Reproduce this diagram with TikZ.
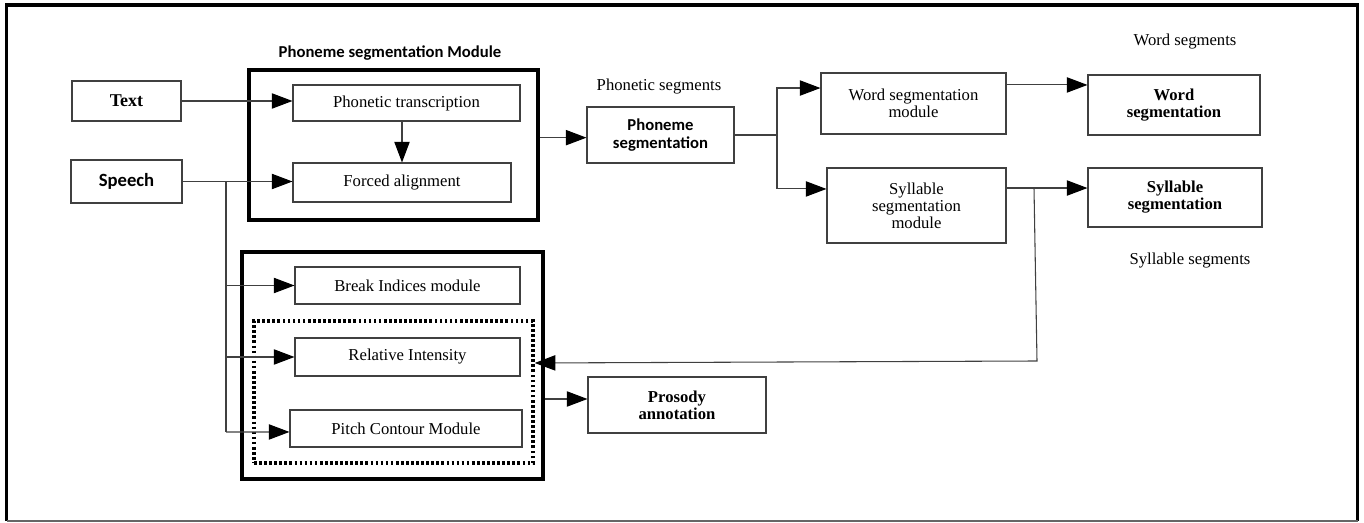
\documentclass[tikz,border=0pt]{standalone}
\usepackage{fontspec}
\setmainfont{Liberation Serif}
\newfontfamily\calib{Carlito}
\usetikzlibrary{arrows.meta}
\begin{document}
\begin{tikzpicture}[x=0.75pt,y=-0.75pt,
  box/.style={draw=black!75, line width=0.8pt, align=center, inner sep=0pt,
    font=\fontsize{12.5}{12.8}\selectfont},
  boldbox/.style={box, font=\fontsize{12.5}{12.8}\selectfont\bfseries},
  sansbox/.style={box, font=\fontsize{12.5}{13.2}\selectfont\calib\bfseries},
  modbox/.style={draw=black, line width=2.6pt, inner sep=0pt},
  dotbox/.style={draw=black, line width=2.6pt, dash pattern=on 2pt off 1.8pt, inner sep=0pt},
  lbl/.style={font=\fontsize{12.5}{13}\selectfont, inner sep=0pt},
  arr/.style={draw=black!75, line width=0.8pt, -{Triangle[length=15.5pt,width=11.5pt,black]}},
  ln/.style={draw=black!75, line width=0.8pt}]
\useasboundingbox (0,0) rectangle (1364,523);
% outer frame
\draw[line width=2.6pt] (6.5,521) -- (6.5,5) -- (1357.5,5) -- (1357.5,521);
\draw[line width=0.8pt, black!60] (6.5,521) -- (1357.5,521);

% module boxes
\node[modbox, minimum width=216.75pt, minimum height=112.5pt] (pm) at (393.5,145) {};
\node[modbox, minimum width=225.75pt, minimum height=170.25pt] (pros) at (392.5,365.5) {};
\node[dotbox, minimum width=209.25pt, minimum height=106.5pt] (dot) at (393.5,392) {};

\node[font=\fontsize{12.5}{13}\selectfont\calib\bfseries, inner sep=0pt] (title) at (390,53) {Phoneme segmentation Module};

% boxes
\node[boldbox, font=\fontsize{13.5}{14}\selectfont\bfseries, minimum width=81.75pt, minimum height=30pt] (text) at (126.5,101) {Text};
\node[sansbox, font=\fontsize{14}{14}\selectfont\calib\bfseries, minimum width=83.25pt, minimum height=32.25pt] (speech) at (126.5,181.5) {Speech};
\node[box, minimum width=170.25pt, minimum height=27pt] (pt) at (406.5,103) {Phonetic transcription};
\node[box, minimum width=163.5pt, minimum height=29.25pt] (fa) at (402,182.5) {Forced alignment};
\node[sansbox, minimum width=110.25pt, minimum height=42pt] (ps) at (660.5,135) {Phoneme\\segmentation};
\node[box, minimum width=138.75pt, minimum height=45.75pt] (wsm) at (913.5,103.5) {Word segmentation\\module};
\node[box, minimum width=134.25pt, minimum height=56.25pt] (ssm) at (916.5,205.5) {Syllable\\segmentation\\module};
\node[boldbox, minimum width=129pt, minimum height=45pt] (ws) at (1174,105) {Word\\segmentation};
\node[boldbox, minimum width=130.5pt, minimum height=44.25pt] (ss) at (1175,197.5) {Syllable\\segmentation};
\node[box, minimum width=168.75pt, minimum height=27.75pt] (bi) at (407.5,285.5) {Break Indices module};
\node[box, minimum width=168.75pt, minimum height=28.5pt] (ri) at (407.5,357) {Relative Intensity};
\node[box, minimum width=174pt, minimum height=27.75pt] (pc) at (406,428.5) {Pitch Contour Module};
\node[boldbox, minimum width=133.5pt, minimum height=42pt] (pa) at (677,405) {Prosody\\annotation};

% free labels
\node[lbl] (lps) at (659,87) {Phonetic segments};
\node[lbl] (lws) at (1185,42) {Word segments};
\node[lbl] (lss) at (1190,261) {Syllable segments};

% connectors
\draw[arr] (text.east) -- (text.east -| pt.west);
\draw[arr] (pt.south -| fa.north) -- (fa.north);
\draw[arr] (speech.east) -- (speech.east -| fa.west);
\coordinate (br) at (226,181.5);
\coordinate (brend) at (226,432);
\draw[ln] (br) -- (brend);
\draw[arr] (br |- bi.west) -- (bi.west);
\draw[arr] (br |- ri.west) -- (ri.west);
\draw[arr] (brend) -- ([yshift=-2.6pt]pc.west);

\draw[arr] ([yshift=-2pt]ps.west -| pm.east) -- ([yshift=-2pt]ps.west);
\coordinate (sp) at (777,135);
\draw[ln] (ps.east) -- (sp);
\draw[arr] (sp) |- ([yshift=11.6pt]wsm.west);
\draw[arr] (sp) |- ([yshift=12.4pt]ssm.west);
\draw[arr] ([yshift=13.9pt]wsm.east) -- ([yshift=13.9pt]wsm.east -| ws.west);
\draw[arr] ([yshift=13.1pt]ssm.east) -- ([yshift=13.1pt]ssm.east -| ss.west);
\coordinate (fb) at (1034,188);
\coordinate (fbc) at (1037,361);
\draw[arr] (fb) -- (fbc) -- ([yshift=21.75pt]dot.east);
\draw[arr] ([yshift=4.5pt]pa.west -| pros.east) -- ([yshift=4.5pt]pa.west);
\end{tikzpicture}
\end{document}
